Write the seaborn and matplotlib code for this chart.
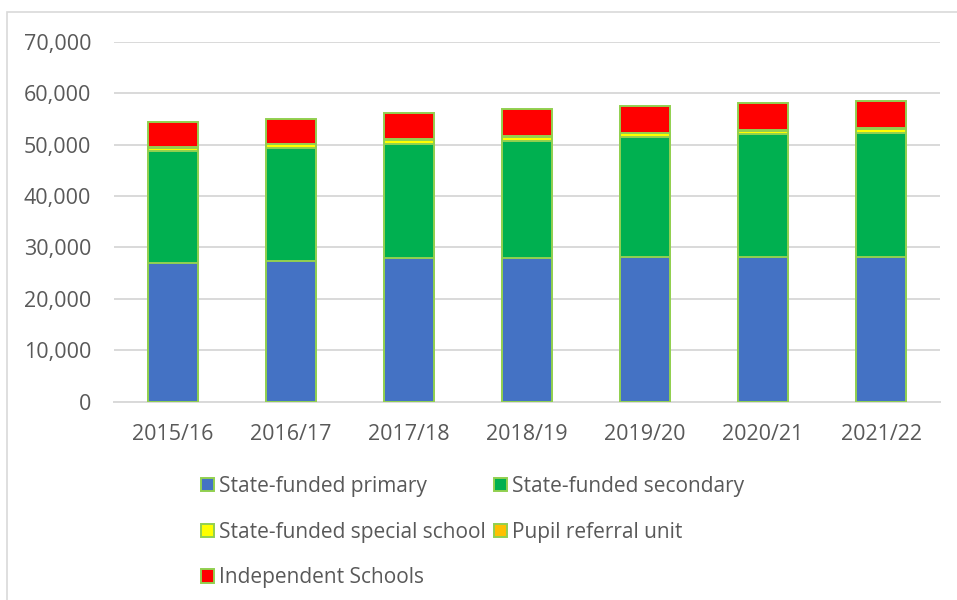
import numpy as np
import pandas as pd
import matplotlib
matplotlib.use("Agg")
import matplotlib.pyplot as plt
import seaborn as sns
from matplotlib.patches import Patch, Rectangle
from matplotlib.ticker import FuncFormatter

# values
years = ["2015/16", "2016/17", "2017/18", "2018/19", "2019/20", "2020/21", "2021/22"]
primary = [26950, 27350, 27850, 28000, 28150, 28150, 28150]
secondary = [21850, 21920, 22250, 22700, 23380, 23850, 24150]
special = [600, 750, 750, 800, 650, 700, 800]
pupil_referral = [150, 150, 150, 150, 150, 150, 150]
independent = [4860, 4850, 5060, 5190, 5200, 5190, 5250]

series_names = [
    "State-funded primary",
    "State-funded secondary",
    "State-funded special school",
    "Pupil referral unit",
    "Independent Schools",
]
colors = ["#4472C4", "#00B050", "#FFFF00", "#FFC000", "#FF0000"]
edge = "#92D050"
text_col = "#595959"
grid_col = "#D9D9D9"

sns.set_style("white")
plt.rcParams["font.family"] = ["Open Sans", "DejaVu Sans"]

df = pd.DataFrame(
    {
        "year": years,
        series_names[0]: primary,
        series_names[1]: secondary,
        series_names[2]: special,
        series_names[3]: pupil_referral,
        series_names[4]: independent,
    }
)
cum = df[series_names].cumsum(axis=1)
cum["year"] = df["year"]

fig = plt.figure(figsize=(9.57, 6.0), dpi=100)
ax = fig.add_axes([114 / 957, 1 - 401.7 / 600, (940 - 114) / 957, 360 / 600])

# stacked bars: draw running totals from the top layer down
for name, col in reversed(list(zip(series_names, colors))):
    sns.barplot(
        data=cum, x="year", y=name, color=col, width=0.42,
        edgecolor=edge, linewidth=1.4, saturation=1, ax=ax, zorder=3,
    )

ax.set_ylim(0, 70000)
ax.set_xlim(-0.5, 6.5)
ax.set_yticks(np.arange(0, 70001, 10000))
ax.yaxis.set_major_formatter(FuncFormatter(lambda v, _: f"{int(v):,}"))
ax.grid(axis="y", color=grid_col, linewidth=1.4, zorder=0)
ax.set_axisbelow(True)
ax.set_xlabel("")
ax.set_ylabel("")
for side in ["left", "right", "top"]:
    ax.spines[side].set_visible(False)
ax.spines["bottom"].set_color(grid_col)
ax.spines["bottom"].set_linewidth(1.4)
ax.tick_params(axis="both", length=0, labelsize=15.5, colors=text_col)
ax.tick_params(axis="x", pad=16)
ax.tick_params(axis="y", pad=16.5)

# legend laid out row-wise like the reference (matplotlib fills columns first)
handles = [Patch(facecolor=c, edgecolor=edge, linewidth=1.4) for c in colors]
order = [0, 2, 4, 1, 3]
leg = fig.legend(
    [handles[i] for i in order], [series_names[i] for i in order],
    ncol=2, loc="upper left", bbox_to_anchor=(201 / 957, 1 - 476 / 600),
    frameon=False, fontsize=15, handlelength=0.62, handleheight=0.62,
    handletextpad=0.25, columnspacing=0.4, labelspacing=1.18,
    borderpad=0, borderaxespad=0,
)
for t in leg.get_texts():
    t.set_color(text_col)

# chart border (left and top edges visible in the reference)
fig.add_artist(Rectangle((7 / 957, -0.1), 1.2, 1 - 12 / 600 + 0.1,
                         transform=fig.transFigure, fill=False,
                         edgecolor=grid_col, linewidth=1.2))

fig.savefig("out.png", dpi=100)
